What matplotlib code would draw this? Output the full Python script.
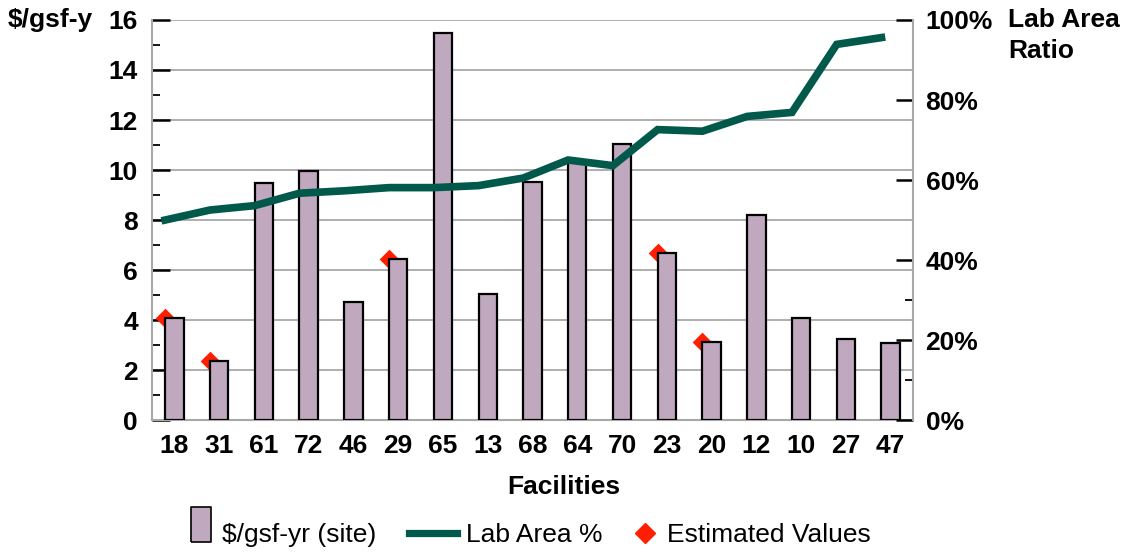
import matplotlib.pyplot as plt
from matplotlib.lines import Line2D
import numpy as np

plt.rcParams['font.family'] = ['Liberation Sans', 'DejaVu Sans']

# chart data
facilities = ['18', '31', '61', '72', '46', '29', '65', '13', '68',
              '64', '70', '23', '20', '12', '10', '27', '47']
cost = [4.08, 2.38, 9.47, 9.98, 4.72, 6.45, 15.48, 5.04, 9.53,
        10.32, 11.03, 6.69, 3.12, 8.21, 4.08, 3.26, 3.07]
lab_pct = [50, 52.5, 53.6, 56.7, 57.3, 58.1, 58.1, 58.6, 60.5,
           65, 63.6, 72.6, 72.2, 75.9, 76.9, 93.9, 95.6]
estimated = ['18', '31', '29', '23', '20']
legend_labels = ['$/gsf-yr (site)', 'Lab Area %', 'Estimated Values']

bar_color = '#c0a8bf'
line_color = '#00594a'
red = '#ff1e00'
grid_color = '#a8a8a8'
bar_w = 0.41
fs = 19

fig = plt.figure(figsize=(11.3, 5.52), dpi=100)
ax = fig.add_axes([0.1345, 0.239, 0.6735, 0.7248])

x = np.arange(len(facilities))
ax.bar(x, cost, width=bar_w, color=bar_color, edgecolor='black', linewidth=1.6, zorder=3)

# estimated markers sit on the top left corner of their bars
est_idx = [facilities.index(f) for f in estimated]
ax.scatter(x[est_idx] - bar_w / 2, [cost[i] for i in est_idx], marker='D', s=100,
           color=red, linewidths=0, zorder=2)

ax.set_xlim(-0.5, len(facilities) - 0.5)
ax.set_ylim(0, 16)
ax.set_yticks(range(0, 17, 2))
ax.set_yticks(range(1, 16, 2), minor=True)
ax.set_xticks(x)
ax.set_xticklabels(facilities, fontsize=fs, fontweight='bold')
ax.tick_params(axis='x', length=0, pad=10)
ax.tick_params(axis='y', which='major', direction='in', length=13, width=1.8,
               labelsize=fs, pad=10)
ax.tick_params(axis='y', which='minor', direction='in', length=6, width=1.3)
for lbl in ax.get_yticklabels():
    lbl.set_fontweight('bold')
ax.yaxis.grid(True, color=grid_color, linewidth=1.3, zorder=0)
ax.set_axisbelow(True)
for s in ['top', 'right']:
    ax.spines[s].set_visible(False)
for s in ['left', 'bottom']:
    ax.spines[s].set_color(grid_color)
    ax.spines[s].set_linewidth(1.5)

ax2 = ax.twinx()
ax2.plot(x - bar_w / 2, lab_pct, color=line_color, linewidth=5.5, solid_joinstyle='miter')
ax2.set_ylim(0, 100)
ax2.set_yticks(range(0, 101, 20))
ax2.set_yticks([10, 30], minor=True)
ax2.set_yticklabels([f'{v}%' for v in range(0, 101, 20)], fontsize=fs, fontweight='bold')
ax2.tick_params(axis='y', which='major', direction='in', length=12, width=1.8, pad=9)
ax2.tick_params(axis='y', which='minor', direction='in', length=6, width=1.3)
for s in ['top', 'left', 'bottom']:
    ax2.spines[s].set_visible(False)
ax2.spines['right'].set_color(grid_color)
ax2.spines['right'].set_linewidth(1.5)

fig.text(0.007, 0.963, '$/gsf-y', fontsize=fs, fontweight='bold', va='center', ha='left')
fig.text(0.892, 1 - 27 / 552, 'Lab Area', fontsize=fs, fontweight='bold', va='baseline', ha='left')
fig.text(0.892, 1 - 58 / 552, 'Ratio', fontsize=fs, fontweight='bold', va='baseline', ha='left')
fig.text(0.499, 0.118, 'Facilities', fontsize=fs, fontweight='bold', ha='center', va='center')

# legend: three single-entry legends so each swatch sits where it does in the original
rect = [(-0.286, -0.258), (0.286, -0.258), (0.286, 0.742), (-0.286, 0.742), (-0.286, -0.258)]
handles = [
    Line2D([], [], marker=rect, markersize=37.4, markerfacecolor=bar_color,
           markeredgecolor='black', markeredgewidth=1.2, linestyle='none'),
    Line2D([], [], color=line_color, linewidth=5.2),
    Line2D([], [], marker='D', markersize=10, color=red, linestyle='none'),
]
starts = [189, 409, 633]
lengths = [0.91, 1.82, 0.91]
pads = [0.34, 0.34, 0.38]
for h, lab, x0, hl, tp in zip(handles, legend_labels, starts, lengths, pads):
    fig.legend([h], [lab], loc='center left', bbox_to_anchor=(x0 / 1130, 0.031),
               frameon=False, fontsize=fs, handlelength=hl, handletextpad=tp,
               borderpad=0, borderaxespad=0)

fig.savefig('out.png', dpi=100)
